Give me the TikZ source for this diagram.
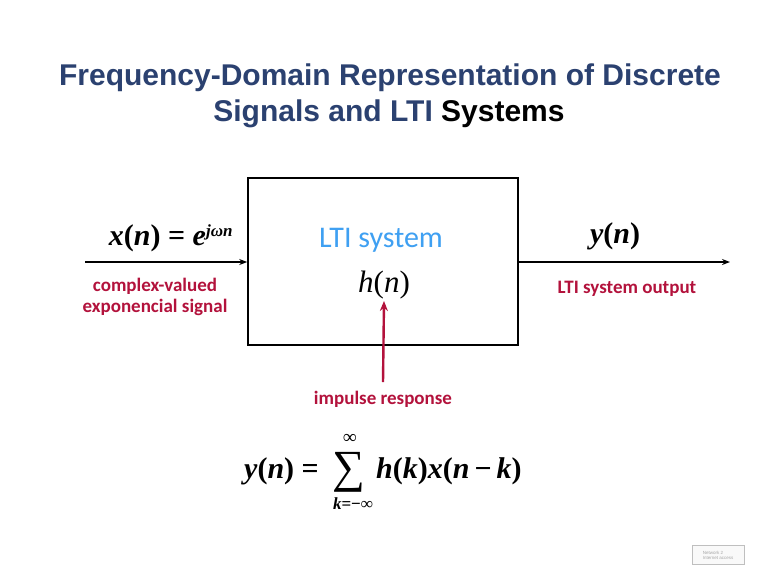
\documentclass[tikz,border=0pt]{standalone}
\usepackage{fontspec}
\setmainfont{Liberation Serif}
\newfontfamily\titlefont{Liberation Sans}
\newfontfamily\calfont{Carlito}
\usetikzlibrary{arrows.meta}
\definecolor{titleblue}{HTML}{2B4170}
\definecolor{lblred}{HTML}{B3123C}
\definecolor{ltiblue}{HTML}{3FA0F2}
\tikzset{
  titletxt/.style={font=\titlefont\bfseries\fontsize{30}{34}\selectfont, text=titleblue},
  redlbl/.style={font=\calfont\bfseries\fontsize{19}{22}\selectfont, text=lblred, align=center},
  mathtxt/.style={font=\fontsize{30}{34}\selectfont, inner sep=0pt},
  sysbox/.style={draw=black, line width=1.6pt},
  sigarrow/.style={line width=1.4pt, -{Stealth[length=8pt,width=6pt]}},
  redarrow/.style={draw=lblred, line width=2.4pt, -{Stealth[length=10pt,width=8pt]}}
}
\begin{document}
\begin{tikzpicture}[x=1pt,y=-1pt]
\useasboundingbox[fill=white] (0,0) rectangle (767,579);
% title
\node[titletxt] (t1) at (390,78) {Frequency-Domain Representation of Discrete};
\node[titletxt] (t2) at (389,114) {Signals and LTI \textcolor{black}{Systems}};
% system box
\node[sysbox, minimum width=270pt, minimum height=167pt, inner sep=0pt] (sys) at (383,261.5) {};
\coordinate (in) at (85,262);
\coordinate (out) at (730,262);
\draw[sigarrow] (in) -- (sys.west |- in);
\draw[sigarrow] (sys.east |- out) -- (out);
% input labels
\node[mathtxt] (xn) at (171,238) {\bfseries\itshape x\upshape(\itshape n\upshape) = \itshape e\textsuperscript{\fontsize{17}{17}\selectfont\bfseries\itshape j\textit{ω}n}};
\node[redlbl] (cv) at (155,297) {complex-valued\\[-1pt]exponencial signal};
% output labels
\node[mathtxt] (yn) at (615,236) {\bfseries\itshape y\upshape(\itshape n\upshape)};
\node[redlbl] (lo) at (627,289) {LTI system output};
% inside box
\node[font=\calfont\fontsize{30}{34}\selectfont, text=ltiblue] (lti) at (381,240) {LTI system};
\node[mathtxt, font=\fontsize{31}{34}\selectfont] (hn) at (384,285) {\itshape h\upshape(\itshape n\upshape)};
\node[redlbl] (ir) at (383,399) {impulse response};
\coordinate (irs) at (383,382);
\draw[redarrow] (irs) -- (hn.south |- 0,301);
% convolution formula
\node[mathtxt, anchor=east] (lhs) at (319,471) {\bfseries\itshape y\upshape(\itshape n\upshape) =};
\node[inner sep=0pt, font=\fontsize{46}{46}\selectfont] (sum) at (349,472) {∑};
\node[inner sep=0pt, font=\bfseries\fontsize{19}{19}\selectfont] (sup) at (350,439) {∞};
\node[inner sep=0pt, font=\bfseries\fontsize{17}{17}\selectfont] (sub) at (353,504) {\itshape k\upshape=−∞};
\node[mathtxt, anchor=west] (rhs) at (376,471) {\bfseries\itshape h\upshape(\itshape k\upshape)\itshape x\upshape(\itshape n\upshape\,−\,\itshape k\upshape)};
% corner badge
\node[draw=gray!50, fill=gray!5, inner sep=1.5pt, align=left, font=\titlefont\fontsize{4.5}{5}\selectfont, text=gray!70, minimum width=52pt, minimum height=19pt] (badge) at (718,555) {Network 2\\Internet access};
\end{tikzpicture}
\end{document}
